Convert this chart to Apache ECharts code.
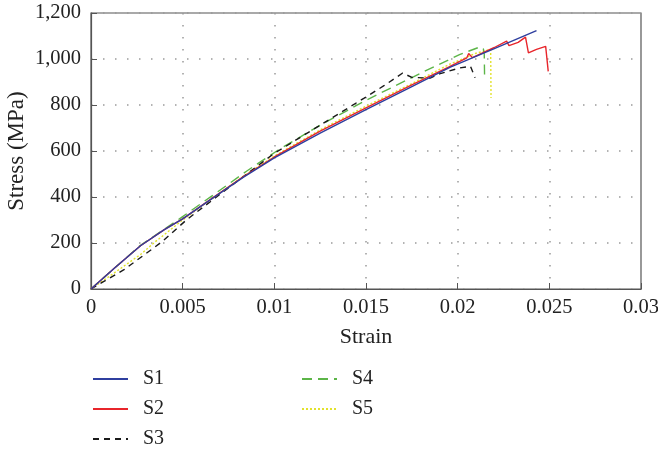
<!DOCTYPE html>
<html>
<head>
<meta charset="utf-8">
<script src="https://cdn.jsdelivr.net/npm/echarts@6/dist/echarts.min.js"></script>
<style>html,body{margin:0;padding:0;background:#fff}#c{width:658px;height:449px}</style>
</head>
<body>
<div id="c"></div>
<script>
const seriesNames = ['S1', 'S2', 'S3', 'S4', 'S5'];
const xTicks = [0, 0.005, 0.01, 0.015, 0.02, 0.025, 0.03];
const yTicks = [0, 200, 400, 600, 800, 1000, 1200];

const s1Strain = [0, 0.0013, 0.0027, 0.0040, 0.0050, 0.0066, 0.0083, 0.0100, 0.0125, 0.0150, 0.0175, 0.0196, 0.0220, 0.0243];
const s1Stress = [0, 92, 188, 258, 305, 393, 485, 570, 678, 780, 880, 965, 1045, 1123];

const s2Strain = [0, 0.0013, 0.0027, 0.0040, 0.0050, 0.0066, 0.0083, 0.0100, 0.0125, 0.0150, 0.0175, 0.0195, 0.0205, 0.0206, 0.0208, 0.0220, 0.02267, 0.0228, 0.0233, 0.0237, 0.02386, 0.0243, 0.0248, 0.0249, 0.02494];
const s2Stress = [0, 92, 188, 258, 305, 394, 488, 574, 686, 788, 888, 965, 1005, 1024, 1006, 1050, 1078, 1058, 1072, 1095, 1027, 1042, 1055, 1048, 946];

const s3Strain = [0, 0.0018, 0.0039, 0.0052, 0.0063, 0.0080, 0.0100, 0.0127, 0.0149, 0.0160, 0.0170, 0.0175, 0.0185, 0.0190, 0.0201, 0.0207, 0.02095];
const s3Stress = [0, 84, 207, 300, 367, 470, 590, 722, 830, 885, 939, 920, 917, 935, 961, 968, 918];

const s4Strain = [0, 0.0013, 0.0027, 0.0049, 0.0066, 0.0085, 0.0103, 0.0125, 0.0149, 0.0158, 0.0180, 0.0201, 0.0212, 0.0214, 0.02145, 0.02147];
const s4Stress = [0, 92, 190, 309, 405, 513, 609, 712, 816, 852, 939, 1019, 1052, 1045, 1020, 915];

const s5Strain = [0, 0.0010, 0.0027, 0.0035, 0.0050, 0.0066, 0.0083, 0.0100, 0.0125, 0.0150, 0.0175, 0.0195, 0.0210, 0.0218, 0.02182];
const s5Stress = [0, 55, 150, 205, 300, 393, 490, 578, 692, 795, 893, 975, 1025, 1042, 830];

const colors = ['#2f3f9f', '#e8252b', '#1a1a1a', '#5cb548', '#e2e22c'];
const dashes = ['solid', 'solid', [6, 5], [10, 6], [2, 2]];
const strains = [s1Strain, s2Strain, s3Strain, s4Strain, s5Strain];
const stresses = [s1Stress, s2Stress, s3Stress, s4Stress, s5Stress];

const FONT = 'Liberation Serif';
const chart = echarts.init(document.getElementById('c'));

const series = seriesNames.map((n, i) => ({
  name: n,
  type: 'line',
  data: strains[i].map((x, j) => [x, stresses[i][j]]),
  symbol: 'none',
  showSymbol: false,
  smooth: false,
  animation: false,
  lineStyle: { color: colors[i], width: 1.4, type: dashes[i] },
  itemStyle: { color: colors[i] },
  z: 10 - i
}));

const legendCommon = {
  orient: 'vertical',
  itemWidth: 35,
  itemHeight: 14,
  itemGap: 10,
  padding: 0,
  height: 120,
  itemStyle: { opacity: 0, color: 'rgba(0,0,0,0)', borderWidth: 0 },
  textStyle: { fontFamily: FONT, fontSize: 20, color: '#222', padding: [0, 0, 0, 10] }
};

chart.setOption({
  animation: false,
  grid: { left: 91, right: 17, top: 13, bottom: 160, show: true, borderColor: '#555', borderWidth: 1.2,
    containLabel: false, outerBoundsMode: 'none' },
  legend: [
    Object.assign({}, legendCommon, { left: 92, top: 369, data: ['S1', 'S2', 'S3'] }),
    Object.assign({}, legendCommon, { left: 301, top: 369, data: ['S4', 'S5'] })
  ],
  xAxis: {
    type: 'value', min: xTicks[0], max: xTicks[xTicks.length - 1], interval: 0.005,
    name: 'Strain', nameLocation: 'middle', nameGap: 37, nameMoveOverlap: false,
    nameTextStyle: { fontFamily: FONT, fontSize: 22, color: '#222' },
    axisLine: { show: true, lineStyle: { color: '#555', width: 1.2 } },
    axisTick: { show: true, inside: true, length: 6, lineStyle: { color: '#555' } },
    axisLabel: { fontFamily: FONT, fontSize: 20.5, color: '#222', margin: 8,
      formatter: v => String(+v.toFixed(3)) },
    splitLine: { show: true, lineStyle: { color: '#9a9a9a', width: 1.5, type: [1.5, 10.5] } }
  },
  yAxis: {
    type: 'value', min: yTicks[0], max: yTicks[yTicks.length - 1], interval: 200,
    name: 'Stress (MPa)', nameLocation: 'middle', nameGap: 63, nameMoveOverlap: false,
    nameTextStyle: { fontFamily: FONT, fontSize: 23, color: '#222' },
    axisLine: { show: true, lineStyle: { color: '#555', width: 1.2 } },
    axisTick: { show: true, inside: true, length: 6, lineStyle: { color: '#555' } },
    axisLabel: { fontFamily: FONT, fontSize: 20.5, color: '#222', margin: 10,
      formatter: v => v.toLocaleString('en-US') },
    splitLine: { show: true, lineStyle: { color: '#9a9a9a', width: 1.5, type: [1.5, 10.5] } }
  },
  series: series
});
</script>
</body>
</html>
